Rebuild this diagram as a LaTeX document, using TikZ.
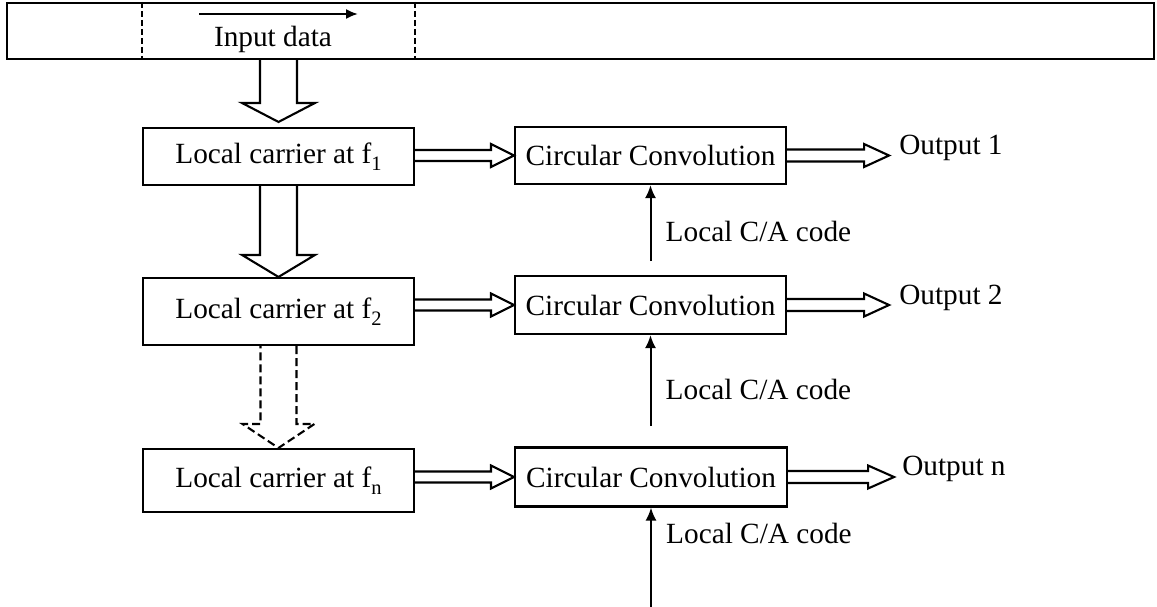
\documentclass[tikz,border=0pt]{standalone}
\usepackage{fontspec}
\setmainfont{Liberation Serif}
\usetikzlibrary{calc,arrows.meta}

% Hollow block arrow: [style] {tail} {tip} {shaft half width} {head half width} {head length}
\newcommand\fatarrow[6][]{%
  \coordinate (fa-b) at ($(#3)!#6!(#2)$);
  \draw[fat,#1] ($(#2)!#4!90:(#3)$) -- ($(fa-b)!#4!-90:(#2)$) -- ($(fa-b)!#5!-90:(#2)$)
    -- (#3) -- ($(fa-b)!#5!90:(#2)$) -- ($(fa-b)!#4!90:(#2)$) -- ($(#2)!#4!-90:(#3)$);
}
% lowered subscript index of the carrier frequency
\newcommand\freqidx[1]{\raisebox{-7.5pt}{\fontsize{20.5}{20.5}\selectfont #1}}

\tikzset{
  every node/.style={font=\fontsize{29.3}{34}\selectfont},
  box/.style={draw, line width=2.1pt, minimum width=271pt, inner sep=0pt},
  label text/.style={inner sep=0pt},
  fat/.style={draw, line width=2.1pt, line join=miter},
  thin arrow/.style={line width=2pt, -{Latex[length=13pt,width=11pt]}},
  dashline/.style={line width=1.6pt, dash pattern=on 6pt off 3pt},
}

\begin{document}
\begin{tikzpicture}[x=1pt, y=-1pt]
  \useasboundingbox (0,0) rectangle (1157,606);

  % input data stream
  \node[draw, line width=2.1pt, minimum width=1147pt, minimum height=56pt, inner sep=0pt] (bar) at (580.5,31) {};
  \node[label text] (indata) at (273,39) {Input data};
  \coordinate (ia) at (199,14);
  \coordinate (ib) at (358,14);
  \draw[thin arrow, -{Latex[length=12pt,width=10pt]}] (ia) -- (ib);

  % local carriers
  \node[box, minimum height=57pt] (lc1) at (278.5,156.5) {Local carrier at f\freqidx{1}};
  \node[box, minimum height=67pt] (lc2) at (278.5,311.5) {Local carrier at f\freqidx{2}};
  \node[box, minimum height=63pt] (lc3) at (278.5,480.5) {Local carrier at f\freqidx{n}};

  % circular convolution blocks
  \node[box, minimum height=57pt] (cc1) at (650.5,155.5) {Circular Convolution};
  \node[box, minimum height=58pt] (cc2) at (650.5,305) {Circular Convolution};
  \node[box, minimum height=59pt, minimum width=272pt] (cc3) at (651,477) {Circular Convolution};

  % dashed window over the input stream
  \draw[dashline] (bar.north -| lc1.west) -- (bar.south -| lc1.west);
  \draw[dashline] (bar.north -| lc1.east) -- (bar.south -| lc1.east);

  % vertical block arrows
  \coordinate (d1t) at (bar.south -| lc1.north);
  \coordinate (d1h) at ($(lc1.north)+(0,-5)$);
  \fatarrow{d1t}{d1h}{18.5pt}{36.5pt}{19pt}
  \fatarrow{lc1.south}{lc2.north}{18.5pt}{36.5pt}{22pt}
  \fatarrow[dash pattern=on 8pt off 4pt]{lc2.south}{lc3.north}{18pt}{36pt}{24pt}

  % carrier to convolution
  \coordinate (h1) at (lc1.east |- cc1.west);
  \coordinate (h2) at (lc2.east |- cc2.west);
  \coordinate (h3) at (lc3.east |- cc3.west);
  \fatarrow{h1}{cc1.west}{5.5pt}{11.5pt}{23pt}
  \fatarrow{h2}{cc2.west}{5.5pt}{11.5pt}{23pt}
  \fatarrow{h3}{cc3.west}{5.5pt}{11.5pt}{23pt}

  % outputs
  \coordinate (o1) at ($(cc1.east)+(102,0)$);
  \coordinate (o2) at ($(cc2.east)+(102,0)$);
  \coordinate (o3) at ($(cc3.east)+(106,0)$);
  \fatarrow{cc1.east}{o1}{6pt}{11.5pt}{25pt}
  \fatarrow{cc2.east}{o2}{6pt}{11.5pt}{25pt}
  \fatarrow{cc3.east}{o3}{6pt}{11.5pt}{26pt}
  \node[label text, anchor=base west] (out1) at ($(o1)+(10,-1)$) {Output 1};
  \node[label text, anchor=base west] (out2) at ($(o2)+(10,-1)$) {Output 2};
  \node[label text, anchor=base west] (out3) at ($(o3)+(8,-2)$) {Output n};

  % local C/A code inputs
  \coordinate (c1) at ($(cc1.south)+(0,76)$);
  \coordinate (c2) at ($(cc2.south)+(0,91)$);
  \coordinate (c3) at ($(cc3.south)+(0,99)$);
  \draw[thin arrow] (c1) -- (cc1.south);
  \draw[thin arrow] (c2) -- (cc2.south);
  \draw[thin arrow] (c3) -- (cc3.south);
  \node[label text, anchor=west] (ca1) at ($(c1)+(15,-30)$) {Local C/A code};
  \node[label text, anchor=west] (ca2) at ($(c2)+(15,-37)$) {Local C/A code};
  \node[label text, anchor=west] (ca3) at ($(c3)+(15,-73)$) {Local C/A code};
\end{tikzpicture}
\end{document}
